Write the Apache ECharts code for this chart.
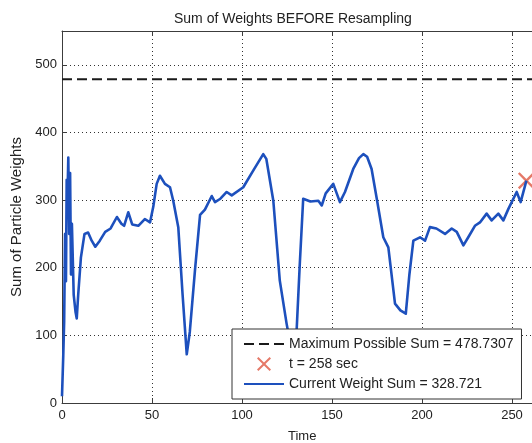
<!DOCTYPE html>
<html>
<head>
<meta charset="utf-8">
<script src="https://cdn.jsdelivr.net/npm/echarts@6/dist/echarts.min.js"></script>
<style>
  html, body { margin: 0; padding: 0; background: #ffffff; }
  #chart { width: 532px; height: 443px; }
</style>
</head>
<body>
<div id="chart"></div>
<script>
// Time stamps (sec) of the weight-sum trace
var times = [0, 0.7, 1.2, 1.7, 2.2, 2.6, 3.0, 3.5, 4.0, 4.5, 5.0, 5.5, 6.5, 7.5, 8.2, 9.0, 10.5, 12.5, 14.5, 16.5,
  18.5, 21, 24, 27, 30.5, 33, 34.5, 36.8, 39, 42.4, 46, 48.9, 50.7, 52.6, 54.4, 57.2, 60, 61.8, 64.6, 67, 69.3, 71,
  74, 76.7, 79.4, 83.2, 85, 88, 91.5, 94.3, 100.7, 106.3, 111.8, 113.5, 117.4, 121, 124.8, 127, 129, 130.4, 132, 134,
  138, 142.4, 144.3, 146.5, 150.7, 154.4, 157.2, 161.8, 165, 167.4, 169.5, 172, 175, 178.5, 181.3, 185, 188, 191,
  193, 195.2, 198.9, 201.7, 204.4, 208, 212.8, 216.5, 219.3, 223, 225.7, 229.4, 232.2, 235.9, 238.7, 242.4, 245.2,
  248, 252.6, 254.8, 258];
// Sum of particle weights at each time stamp
var weightSums = [10, 70, 120, 250, 180, 330, 300, 363, 250, 340, 190, 265, 160, 135, 125, 160, 215, 250, 252, 240,
  231, 240, 253, 258, 275, 265, 262, 282, 264, 262, 272, 267, 290, 324, 336, 324, 319, 299, 260, 160, 72, 105,
  200, 278, 286, 306, 297, 302, 312, 307, 319, 344, 368, 361, 299, 181, 117, 85, 75, 110, 200, 302,
  298, 299, 292, 310, 324, 297, 312, 346, 362, 368, 364, 346, 300, 245, 230, 147, 137, 132,
  190, 240, 245, 240, 260, 258, 250, 258, 253, 233, 245, 262, 267, 280, 270, 280, 270,
  287, 312, 297, 328.721];
// Largest possible weight sum (horizontal reference)
var maxPossibleSum = 478.7307;
var maxSumSpan = [0, 300];
// Current time marker
var markerTime = 258;
var markerSum = 328.721;
// Axis ticks
var xTickStep = 50;
var yTickStep = 100;

var seriesLine = times.map(function (t, i) { return [t, weightSums[i]]; });
var maxLine = maxSumSpan.map(function (t) { return [t, maxPossibleSum]; });

var font = "'Liberation Sans', Arial, sans-serif";
var ink = '#222222';
var frame = '#3c3c3c';
var dots = { type: [1, 3], color: '#333333', width: 1 };
var crossPath = 'path://M0,1 L1,0 L5,4 L9,0 L10,1 L6,5 L10,9 L9,10 L5,6 L1,10 L0,9 L4,5 Z';
// line entries in the legend show only their stroke, no symbol
var noSymbol = { color: 'transparent', borderWidth: 0, opacity: 0 };

var chart = echarts.init(document.getElementById('chart'), null, { renderer: 'canvas' });
chart.setOption({
  backgroundColor: '#ffffff',
  animation: false,
  textStyle: { fontFamily: font },
  title: [
    { text: 'Sum of Weights BEFORE Resampling', left: 169, top: 7,
      textStyle: { fontFamily: font, fontSize: 14, fontWeight: 'normal', color: ink } },
    { text: 'Time', left: 283, top: 425,
      textStyle: { fontFamily: font, fontSize: 13, fontWeight: 'normal', color: ink } }
  ],
  grid: { left: 62, top: 31, width: 540, height: 372, containLabel: false, outerBoundsMode: 'none' },
  xAxis: [{
    type: 'value', min: 0, max: 300, interval: xTickStep, position: 'bottom',
    axisLine: { show: true, lineStyle: { color: frame, width: 1 } },
    axisTick: { show: true, inside: true, length: 5, lineStyle: { color: frame } },
    axisLabel: { color: ink, fontSize: 13, fontFamily: font, margin: 6 },
    splitLine: { show: true, lineStyle: dots }
  }, {
    type: 'value', min: 0, max: 300, interval: xTickStep, position: 'top',
    axisLine: { show: true, lineStyle: { color: frame, width: 1 } },
    axisTick: { show: true, inside: true, length: 5, lineStyle: { color: frame } },
    axisLabel: { show: false },
    splitLine: { show: false }
  }],
  yAxis: [{
    type: 'value', min: 0, max: 550, interval: yTickStep,
    name: 'Sum of Particle Weights', nameLocation: 'middle', nameGap: 31,
    nameTextStyle: { color: ink, fontSize: 15, fontFamily: font },
    axisLine: { show: true, lineStyle: { color: frame, width: 1 } },
    axisTick: { show: true, inside: true, length: 5, lineStyle: { color: frame } },
    axisLabel: { color: ink, fontSize: 13, fontFamily: font, margin: 5, showMaxLabel: false },
    splitLine: { show: true, lineStyle: dots }
  }],
  legend: {
    orient: 'vertical', left: 232, top: 329,
    padding: [8, 8, 8, 11],
    itemWidth: 40, itemHeight: 14, itemGap: 6,
    backgroundColor: '#ffffff', borderColor: '#333333', borderWidth: 1, borderRadius: 0,
    textStyle: { color: ink, fontSize: 14, fontFamily: font, padding: [0, 0, 0, 0] },
    data: [
      { name: 'Maximum Possible Sum = 478.7307', itemStyle: noSymbol },
      { name: 't = 258 sec' },
      { name: 'Current Weight Sum = 328.721', itemStyle: noSymbol }
    ]
  },
  series: [{
    name: 'Maximum Possible Sum = 478.7307', type: 'line', data: maxLine,
    symbol: 'none', silent: true,
    lineStyle: { color: '#1a1a1a', width: 2, type: [10, 5] },
    itemStyle: { color: '#1a1a1a' }
  }, {
    name: 't = 258 sec', type: 'scatter', data: [[markerTime, markerSum]],
    symbol: crossPath, symbolSize: 17,
    itemStyle: { color: '#e26a58', opacity: 0.9 }
  }, {
    name: 'Current Weight Sum = 328.721', type: 'line', data: seriesLine,
    symbol: 'none',
    lineStyle: { color: '#1d50bd', width: 2.6, join: 'round' },
    itemStyle: { color: '#1d50bd' }
  }]
});
</script>
</body>
</html>
